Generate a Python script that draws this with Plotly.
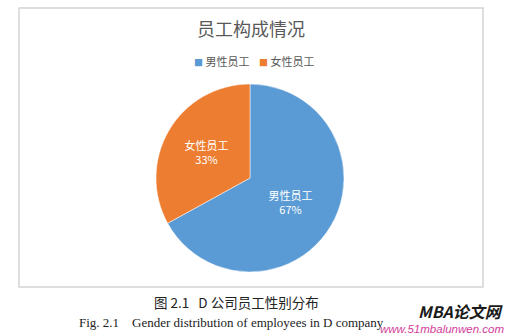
import plotly.graph_objects as go

labels = ["男性员工", "女性员工"]
values = [67, 33]
colors = ["#5B9BD5", "#ED7D31"]

W, H = 507, 335
cx, cy, r = 250, 178, 94
cjk = "Noto Sans CJK SC"

fig = go.Figure()
fig.add_trace(go.Pie(
    labels=labels, values=values, sort=False, direction="clockwise", rotation=0,
    marker=dict(colors=colors, line=dict(color="white", width=0.5)),
    texttemplate="%{label}<br>%{percent:.0%}", textinfo="text",
    textposition="inside", insidetextorientation="horizontal",
    textfont=dict(color="white", size=11, family=cjk),
    hoverinfo="skip", showlegend=False,
    domain=dict(x=[(cx - r) / W, (cx + r) / W], y=[1 - (cy + r) / H, 1 - (cy - r) / H]),
))

# legend drawn as text items (square marker + label)
legend_x = [221, 286]
annotations = []
for lab, col, lx in zip(labels, colors, legend_x):
    annotations.append(dict(
        text=f"<span style='color:{col};font-size:9px'>■</span> {lab}",
        x=lx / W, y=1 - 61 / H, xref="paper", yref="paper", showarrow=False,
        xanchor="center", yanchor="middle",
        font=dict(size=11, color="#595959", family=cjk)))

annotations += [
    dict(text="图 2.1   D 公司员工性别分布", x=236 / W, y=1 - 302 / H, xref="paper", yref="paper",
         showarrow=False, xanchor="center", yanchor="middle",
         font=dict(size=13.5, color="#222", family=cjk)),
    dict(text="Fig. 2.1    Gender distribution of employees in D company", x=77 / W, y=1 - 322 / H,
         xref="paper", yref="paper", showarrow=False, xanchor="left", yanchor="middle",
         font=dict(size=13, color="#222", family="Liberation Serif")),
    dict(text="<b><i>MBA论文网</i></b>", x=505 / W, y=1 - 311 / H, xref="paper", yref="paper",
         showarrow=False, xanchor="right", yanchor="middle",
         font=dict(size=16, color="#1a1a1a", family=cjk)),
    dict(text="<i>www.51mbalunwen.com</i>", x=506 / W, y=1 - 329 / H, xref="paper", yref="paper",
         showarrow=False, xanchor="right", yanchor="middle",
         font=dict(size=11.5, color="#D23C9A", family="Liberation Sans")),
]

fig.update_layout(
    width=W, height=H, margin=dict(l=0, r=0, t=0, b=0),
    paper_bgcolor="white", plot_bgcolor="white",
    showlegend=False,
    title=dict(text="员工构成情况", x=251 / W, xanchor="center", y=1 - 30 / H, yanchor="middle",
               font=dict(size=18, color="#595959", family=cjk)),
    shapes=[dict(type="rect", xref="paper", yref="paper", x0=19 / W, x1=483 / W,
                 y0=1 - 287 / H, y1=1 - 8 / H, line=dict(color="#D4D4D4", width=1.5))],
    annotations=annotations,
)

fig.write_html("out.html")
